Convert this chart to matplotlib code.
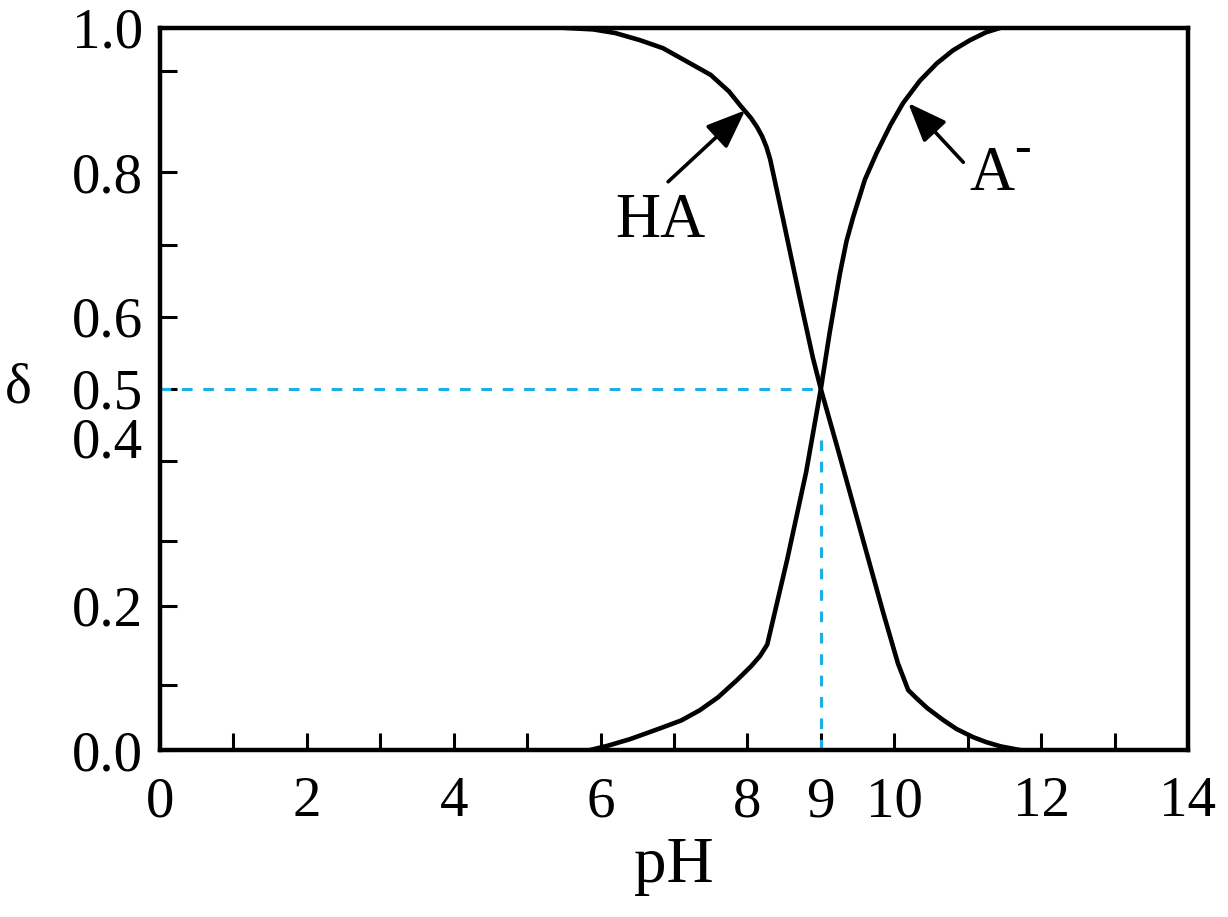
import numpy as np
import matplotlib
matplotlib.use("Agg")
import matplotlib.pyplot as plt
import matplotlib.transforms as mtransforms

plt.rcParams['font.family'] = ['Liberation Serif', 'DejaVu Serif']

# HA distribution curve
ha_ph = [5.54, 5.9, 6.2, 6.54, 6.85, 7.22, 7.5, 7.75, 7.9, 8.05, 8.13, 8.2, 8.26, 8.31,
         8.48, 8.72, 8.89, 9.0, 9.25, 9.55, 9.85, 10.05, 10.19, 10.3, 10.45, 10.66,
         10.85, 11.07, 11.25, 11.45, 11.71]
ha_delta = [1.0, 0.998, 0.993, 0.983, 0.972, 0.951, 0.935, 0.912, 0.893, 0.875, 0.863, 0.85,
            0.835, 0.818, 0.738, 0.623, 0.544, 0.5, 0.41, 0.30, 0.19, 0.12, 0.083, 0.072,
            0.058, 0.042, 0.029, 0.018, 0.011, 0.005, 0.0]

# A- distribution curve
a_ph = [5.86, 6.1, 6.4, 6.81, 7.1, 7.35, 7.6, 7.86, 8.05, 8.17, 8.27, 8.54, 8.8, 9.0,
        9.12, 9.2, 9.26, 9.35, 9.44, 9.6, 9.76, 9.95, 10.12, 10.35, 10.58, 10.8, 11.03,
        11.25, 11.44]
a_delta = [0.0, 0.006, 0.015, 0.030, 0.041, 0.055, 0.073, 0.097, 0.116, 0.13, 0.146, 0.263,
           0.385, 0.5, 0.578, 0.625, 0.66, 0.705, 0.738, 0.79, 0.827, 0.866, 0.896, 0.927,
           0.951, 0.969, 0.983, 0.994, 1.0]

pka = 9
x_ticks = list(range(0, 15))
x_labels = ['0', '', '2', '', '4', '', '6', '', '8', '9', '10', '', '12', '', '14']
y_major = [0.0, 0.2, 0.4, 0.5, 0.6, 0.8, 1.0]
y_labels = ['0.0', '0.2', '0.4', '0.5', '0.6', '0.8', '1.0']
y_minor = [0.09, 0.29, 0.7, 0.94]

fig = plt.figure(figsize=(12.28, 9.17), dpi=100)
ax = fig.add_axes([0.1303, 0.1821, 0.8371, 0.7874])

ax.plot(ha_ph, ha_delta, color='black', lw=3.3, solid_joinstyle='round')
ax.plot(a_ph, a_delta, color='black', lw=3.3, solid_joinstyle='round')

# dashed guides at pKa
ax.plot([0, pka], [0.5, 0.5], color='#1AAFE6', lw=2.2, ls=(0, (3.5, 3.5)))
ax.plot([pka, pka], [0, 0.43], color='#1AAFE6', lw=2.2, ls=(0, (3.5, 3.5)))

ax.set_xlim(0, 14)
ax.set_ylim(0, 1)

# arrows and species labels
arrow = dict(arrowstyle='-|>,head_length=0.48,head_width=0.19', color='black',
             lw=2.6, mutation_scale=50, shrinkA=0, shrinkB=0)
ax.annotate('', xy=(7.97, 0.886), xytext=(6.92, 0.787), arrowprops=arrow)
ax.annotate('', xy=(10.19, 0.896), xytext=(10.94, 0.814), arrowprops=arrow)
ax.text(6.81, 0.731, 'HA', fontsize=45, ha='center', va='center')
ax.text(11.33, 0.796, 'A', fontsize=45, ha='center', va='center')
ax.text(11.74, 0.832, '-', fontsize=36, ha='center', va='center')

ax.set_xticks(x_ticks)
ax.set_xticklabels(x_labels)
ax.set_yticks(y_major)
ax.set_yticklabels(y_labels)
ax.set_yticks(y_minor, minor=True)

ax.tick_params(axis='both', which='both', direction='in', length=12, width=2.2,
               labelsize=41, color='black')
ax.tick_params(axis='x', pad=19)
ax.tick_params(axis='y', pad=12)

# move the 0.4 label up so it clears 0.5
offset = mtransforms.ScaledTranslation(0, 24 / 100, fig.dpi_scale_trans)
for lab in ax.get_yticklabels():
    if lab.get_text() == '0.4':
        lab.set_transform(lab.get_transform() + offset)

for sp in ax.spines.values():
    sp.set_linewidth(3.2)

ax.set_xlabel('pH', fontsize=47, labelpad=6)
ax.set_ylabel('δ', fontsize=41, rotation=0, va='center', ha='center')
ax.yaxis.set_label_coords(-0.138, 0.5)

fig.savefig('out.png', dpi=100)
